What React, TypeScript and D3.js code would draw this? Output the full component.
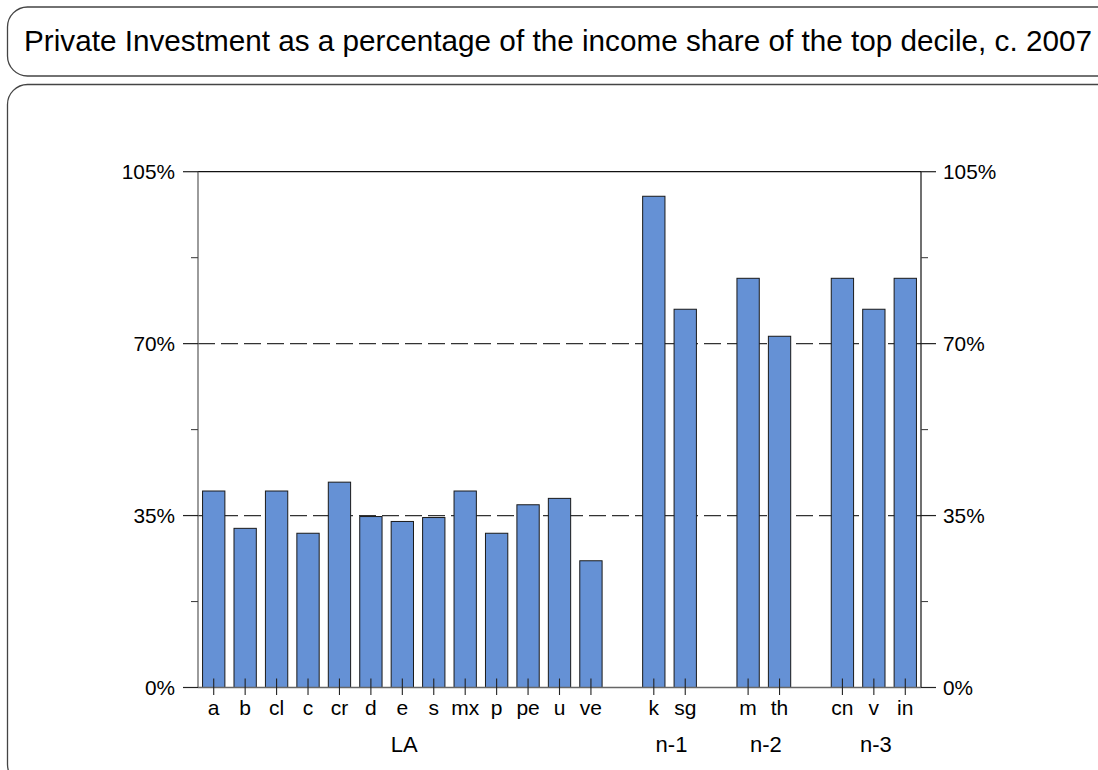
import React from "react";
import * as d3 from "d3";

const title = "Private Investment as a percentage of the income share of the top decile, c. 2007";

const laCats = ["a", "b", "cl", "c", "cr", "d", "e", "s", "mx", "p", "pe", "u", "ve"];
const laValues = [40, 32.4, 40, 31.4, 41.8, 34.8, 33.8, 34.6, 40, 31.4, 37.2, 38.5, 25.8];
const n1Cats = ["k", "sg"];
const n1Values = [100, 77];
const n2Cats = ["m", "th"];
const n2Values = [83.3, 71.5];
const n3Cats = ["cn", "v", "in"];
const n3Values = [83.3, 77, 83.3];
const groupLabels = ["LA", "n-1", "n-2", "n-3"];

const yMajorTicks = [0, 35, 70, 105];
const yMinorTicks = [17.5, 52.5, 87.5];
const dashedLevels = [35, 70];

const groups = [
  { label: groupLabels[0], cats: laCats, values: laValues },
  { label: groupLabels[1], cats: n1Cats, values: n1Values },
  { label: groupLabels[2], cats: n2Cats, values: n2Values },
  { label: groupLabels[3], cats: n3Cats, values: n3Values },
];

const W = 1098;
const H = 770;
const FONT = "'Liberation Sans', Arial, Helvetica, sans-serif";

export default function App() {
  const slots: string[] = [];
  groups.forEach((g, gi) => {
    if (gi > 0) slots.push(`__gap${gi}`);
    g.cats.forEach((c) => slots.push(c));
  });

  const left = 198;
  const right = 921;
  const top = 171.7;
  const base = 687.5;

  const x = d3.scaleBand<string>().domain(slots).range([left, right]).paddingInner(0.29).paddingOuter(0.145);
  const y = d3.scaleLinear().domain([0, 105]).range([base, top]);

  const bars = groups.flatMap((g) => g.cats.map((c, i) => ({ cat: c, value: g.values[i] })));
  const cx = (c: string) => (x(c) as number) + x.bandwidth() / 2;

  return (
    <svg width={W} height={H} style={{ position: "absolute", left: 0, top: 0, background: "#fff" }} fontFamily={FONT}>
      <rect x={7.5} y={7} width={1110} height={69} rx={20} ry={20} fill="none" stroke="#444" strokeWidth={1.3} />
      <text x={24} y={51} fontSize={29.6} fill="#000" textLength={1068} lengthAdjust="spacingAndGlyphs">{title}</text>
      <rect x={7.5} y={84.5} width={1110} height={700} rx={20} ry={20} fill="none" stroke="#444" strokeWidth={1.3} />

      {dashedLevels.map((v) => (
        <line key={`d${v}`} x1={left} x2={right} y1={y(v)} y2={y(v)} stroke="#333" strokeWidth={1.2} strokeDasharray="17,6" />
      ))}

      {bars.map((b) => (
        <rect
          key={b.cat}
          x={x(b.cat)}
          y={y(b.value)}
          width={x.bandwidth()}
          height={y(0) - y(b.value)}
          fill="#6591D5"
          stroke="#1a1a1a"
          strokeWidth={1}
        />
      ))}

      <line x1={left} x2={right} y1={top} y2={top} stroke="#111" strokeWidth={1.2} />
      <line x1={left} x2={left} y1={top} y2={base} stroke="#666" strokeWidth={1.3} />
      <line x1={right} x2={right} y1={top} y2={base} stroke="#111" strokeWidth={1.2} />
      <line x1={left} x2={right} y1={base} y2={base} stroke="#666" strokeWidth={1.3} />

      {yMajorTicks.map((v) => (
        <g key={`ym${v}`}>
          <line x1={left - 15} x2={left} y1={y(v)} y2={y(v)} stroke="#222" strokeWidth={1.2} />
          <line x1={right} x2={right + 15} y1={y(v)} y2={y(v)} stroke="#222" strokeWidth={1.2} />
          <text x={175} y={y(v) + 7} textAnchor="end" fontSize={20.8} fill="#000">{`${v}%`}</text>
          <text x={943} y={y(v) + 7} textAnchor="start" fontSize={20.8} fill="#000">{`${v}%`}</text>
        </g>
      ))}
      {yMinorTicks.map((v) => (
        <g key={`yn${v}`}>
          <line x1={left - 7} x2={left} y1={y(v)} y2={y(v)} stroke="#444" strokeWidth={1.1} />
          <line x1={right} x2={right + 7} y1={y(v)} y2={y(v)} stroke="#444" strokeWidth={1.1} />
        </g>
      ))}

      {bars.map((b) => (
        <g key={`xt${b.cat}`}>
          <line x1={cx(b.cat)} x2={cx(b.cat)} y1={base - 9} y2={base + 7.5} stroke="#222" strokeWidth={1.1} />
          <text x={cx(b.cat)} y={715} textAnchor="middle" fontSize={21} fill="#000">{b.cat}</text>
        </g>
      ))}

      {groups.map((g) => {
        const c0 = cx(g.cats[0]);
        const c1 = cx(g.cats[g.cats.length - 1]);
        return (
          <text key={`g${g.label}`} x={(c0 + c1) / 2 + 2} y={752} textAnchor="middle" fontSize={22} fill="#000">
            {g.label}
          </text>
        );
      })}
    </svg>
  );
}
